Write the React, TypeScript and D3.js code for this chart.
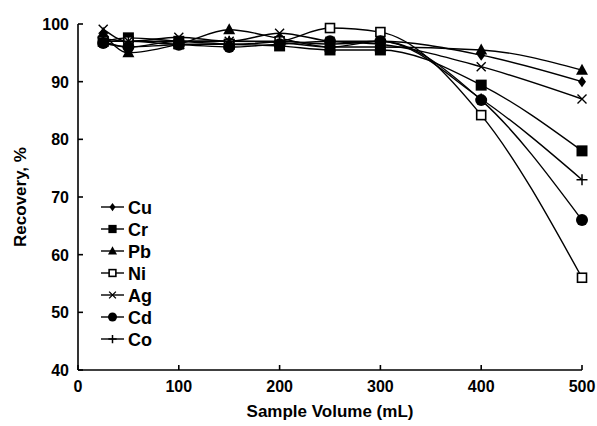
import * as d3 from 'd3';

// Sample volumes (mL) and recoveries (%) per metal
const VOLUMES = [25, 50, 100, 150, 200, 250, 300, 400, 500];
const CU = [97.0, 96.0, 97.0, 97.0, 97.0, 96.5, 97.0, 94.6, 90.0];
const CR = [97.0, 97.6, 97.0, 96.5, 96.2, 95.5, 95.5, 89.4, 78.0];
const PB = [98.4, 95.0, 96.5, 99.0, 97.5, 96.0, 96.0, 95.5, 92.0];
const NI = [97.0, 97.0, 96.5, 96.5, 97.0, 99.3, 98.6, 84.2, 56.0];
const AG = [99.1, 97.0, 97.7, 97.0, 98.4, 97.0, 96.5, 92.6, 87.0];
const CD = [96.7, 96.0, 96.4, 96.0, 96.5, 97.0, 97.0, 86.8, 66.0];
const CO = [97.5, 97.0, 97.0, 97.0, 96.8, 96.0, 97.0, 87.0, 73.0];

const SERIES = [
  { name: 'Cu', values: CU, marker: 'diamond' },
  { name: 'Cr', values: CR, marker: 'square' },
  { name: 'Pb', values: PB, marker: 'triangle' },
  { name: 'Ni', values: NI, marker: 'openSquare' },
  { name: 'Ag', values: AG, marker: 'x' },
  { name: 'Cd', values: CD, marker: 'circle' },
  { name: 'Co', values: CO, marker: 'plus' },
];

const X_TICKS = [0, 100, 200, 300, 400, 500];
const Y_TICKS = [40, 50, 60, 70, 80, 90, 100];

const W = 597;
const H = 426;
const M = { left: 78, right: 15, top: 24, bottom: 56 };
const FONT = '"Liberation Sans", Arial, sans-serif';

function Marker({ kind, x, y, k = 1 }: { kind: string; x: number; y: number; k?: number }) {
  switch (kind) {
    case 'diamond':
      return <path d={`M${x},${y - 5.5 * k}L${x + 4 * k},${y}L${x},${y + 5.5 * k}L${x - 4 * k},${y}Z`} fill="#000" />;
    case 'square':
      return <rect x={x - 5.5 * k} y={y - 5.5 * k} width={11 * k} height={11 * k} fill="#000" />;
    case 'triangle':
      return <path d={`M${x},${y - 6.5 * k}L${x + 6 * k},${y + 4.5 * k}L${x - 6 * k},${y + 4.5 * k}Z`} fill="#000" />;
    case 'openSquare':
      return <rect x={x - 4.5 * k} y={y - 4.5 * k} width={9 * k} height={9 * k} fill="#fff" stroke="#000" strokeWidth={1.6} />;
    case 'x':
      return <path d={`M${x - 4.5 * k},${y - 4.5 * k}L${x + 4.5 * k},${y + 4.5 * k}M${x - 4.5 * k},${y + 4.5 * k}L${x + 4.5 * k},${y - 4.5 * k}`} stroke="#000" strokeWidth={1.4} fill="none" />;
    case 'circle':
      return <circle cx={x} cy={y} r={6 * k} fill="#000" />;
    case 'plus':
      return <path d={`M${x - 5.5 * k},${y}L${x + 5.5 * k},${y}M${x},${y - 5.5 * k}L${x},${y + 5.5 * k}`} stroke="#000" strokeWidth={1.5} fill="none" />;
    default:
      return null;
  }
}

export default function App() {
  const x = d3.scaleLinear().domain([0, 500]).range([M.left, W - M.right]);
  const y = d3.scaleLinear().domain([40, 100]).range([H - M.bottom, M.top]);

  const line = d3.line<[number, number]>()
    .x(d => x(d[0]))
    .y(d => y(d[1]))
    .curve(d3.curveMonotoneX);

  const x0 = M.left;
  const y0 = H - M.bottom;

  return (
    <div style={{ position: 'absolute', left: 0, top: 0, width: W, height: H, background: '#fff' }}>
      <svg width={W} height={H} style={{ display: 'block' }}>
        {/* series lines */}
        {SERIES.map(s => (
          <path
            key={s.name}
            d={line(VOLUMES.map((v, i) => [v, s.values[i]] as [number, number])) || ''}
            fill="none"
            stroke="#000"
            strokeWidth={1.4}
          />
        ))}
        {/* markers */}
        {SERIES.map(s => (
          <g key={s.name + 'm'}>
            {VOLUMES.map((v, i) => (
              <Marker key={i} kind={s.marker} x={x(v)} y={y(s.values[i])} />
            ))}
          </g>
        ))}

        {/* axes */}
        <line x1={x0} x2={x0} y1={M.top} y2={y0} stroke="#000" strokeWidth={1.6} />
        <line x1={x0} x2={W - M.right} y1={y0} y2={y0} stroke="#000" strokeWidth={1.6} />
        {Y_TICKS.map(t => (
          <g key={'y' + t}>
            <line x1={x0} x2={x0 + 5} y1={y(t)} y2={y(t)} stroke="#000" strokeWidth={1.6} />
            <text x={x0 - 9} y={y(t) + 6} textAnchor="end" fontFamily={FONT} fontWeight="bold" fontSize={16}>{t}</text>
          </g>
        ))}
        {X_TICKS.map(t => (
          <g key={'x' + t}>
            <line x1={x(t)} x2={x(t)} y1={y0} y2={y0 - 5} stroke="#000" strokeWidth={1.6} />
            <text x={x(t)} y={y0 + 22} textAnchor="middle" fontFamily={FONT} fontWeight="bold" fontSize={16}>{t}</text>
          </g>
        ))}

        {/* axis titles */}
        <text x={(x0 + W - M.right) / 2} y={H - 9} textAnchor="middle" fontFamily={FONT} fontWeight="bold" fontSize={17}>
          Sample Volume (mL)
        </text>
        <text
          transform={`translate(26,${(M.top + y0) / 2}) rotate(-90)`}
          textAnchor="middle"
          fontFamily={FONT}
          fontWeight="bold"
          fontSize={17}
        >
          Recovery, %
        </text>

        {/* legend */}
        {SERIES.map((s, i) => {
          const ly = 207 + i * 22;
          return (
            <g key={'l' + s.name}>
              <line x1={101} x2={124} y1={ly} y2={ly} stroke="#000" strokeWidth={1.4} />
              <Marker kind={s.marker} x={112.5} y={ly} k={0.75} />
              <text x={128} y={ly + 6.5} fontFamily={FONT} fontWeight="bold" fontSize={18}>{s.name}</text>
            </g>
          );
        })}
      </svg>
    </div>
  );
}
